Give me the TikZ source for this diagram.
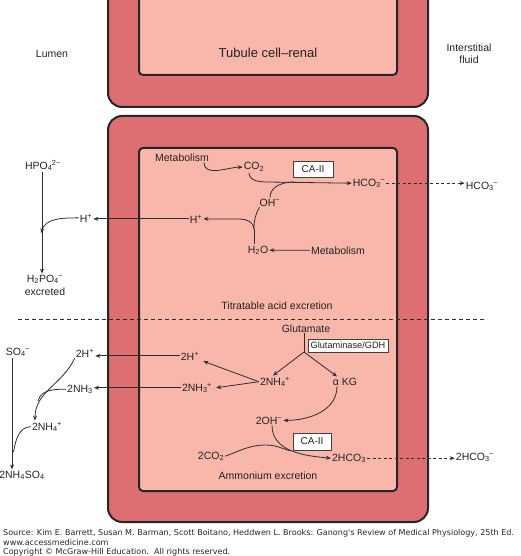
\documentclass[tikz,border=0pt]{standalone}
\usepackage{fontspec}
\setmainfont{Liberation Sans}
\newfontfamily\srcfont{DejaVu Sans}
\usetikzlibrary{arrows.meta}
\definecolor{cellouter}{RGB}{221,110,114}
\definecolor{cellinner}{RGB}{249,182,171}
\definecolor{lncol}{RGB}{45,45,45}
\definecolor{txt}{RGB}{35,35,35}
\newcommand\scr[2]{\textsubscript{#1}\kern-0.05em\textsuperscript{#2}}
\begin{document}
\begin{tikzpicture}[x=1pt,y=-1pt,
  lbl/.style={font=\fontsize{10.5}{12}\selectfont, text=txt, inner sep=1pt, anchor=base},
  lblc/.style={font=\fontsize{10.5}{12}\selectfont, text=txt, inner sep=1pt, align=center},
  arr/.style={draw=lncol, line width=0.8pt, -{Stealth[length=5pt,width=4pt]}},
  plain/.style={draw=lncol, line width=0.8pt},
  dsh/.style={draw=lncol, line width=0.8pt, dash pattern=on 3pt off 2.5pt, -{Stealth[length=5pt,width=4pt]}},
  enz/.style={draw=black!75, fill=white, line width=0.7pt, text=txt, inner sep=1pt},
  outercell/.style={fill=cellouter, draw=black!85, line width=2pt, rounded corners=14pt},
  innercell/.style={fill=cellinner, draw=black!85, line width=2pt, rounded corners=4pt},
  src/.style={font=\srcfont\fontsize{8.05}{9}\selectfont, text=black!85, inner sep=0pt, anchor=base west}]
\useasboundingbox (0,0) rectangle (520,556);
\begin{scope}
\clip (0,0) rectangle (520,556);
% top cell
\draw[outercell] (108,-30) rectangle (428,107);
\draw[innercell] (139,-30) rectangle (397,75);
% bottom cell
\draw[outercell] (108,116) rectangle (428,522);
\draw[innercell] (139,148) rectangle (397,491);
\end{scope}

\node[lbl] (lumen) at (52,58) {Lumen};
\node[lbl, font=\fontsize{13}{15}\selectfont] (title) at (268,57.5) {Tubule cell–renal};
\node[lblc] (isf) at (469,54) {Interstitial\\fluid};

% titratable acid section
\node[lbl] (met1) at (182,161) {Metabolism};
\node[lbl] (co2) at (254,170) {CO\textsubscript{2}};
\node[enz, font=\fontsize{10}{12}\selectfont, minimum width=40pt, minimum height=16pt] (ca1) at (313,169) {CA-II};
\node[lbl] (hco3) at (369,186) {HCO\scr{3}{−}};
\node[lbl] (hco3o) at (482,189) {HCO\scr{3}{−}};
\node[lbl] (oh) at (270,206) {OH\textsuperscript{−}};
\node[lbl] (hin) at (196,223) {H\textsuperscript{+}};
\node[lbl] (hout) at (86,222) {H\textsuperscript{+}};
\node[lbl] (h2o) at (258,253) {H\textsubscript{2}O};
\node[lbl] (met2) at (338,254) {Metabolism};
\node[lbl] (hpo4) at (43,169) {HPO\scr{4}{2−}};
\node[lblc] (h2po4) at (45,285) {H\textsubscript{2}PO\scr{4}{−}\\[1pt]excreted};
\node[lbl] (tae) at (277,309) {Titratable acid excretion};

\coordinate (j1) at (268,182);
\coordinate (j2) at (294,182);
\coordinate (fork1) at (254,229);
\coordinate (k1) at (240,219);
\draw[arr] ([xshift=-6pt]met1.south east) to[out=-90,in=180] (co2.west);
\draw[arr] ([xshift=-5pt]co2.south) to[out=-90,in=180] (j1) -- (hco3.west);
\draw[plain] (oh.north) to[out=90,in=180] (j2);
\draw[plain] ([xshift=-4pt]h2o.north) -- (fork1);
\draw[arr] (fork1) to[out=90,in=0] (k1) -- (hin.east);
\draw[plain] (fork1) to[out=90,in=-120] ([xshift=1pt]oh.south west);
\draw[arr] (hin.west) -- (hin.west -| hout.east);
\draw[arr] ([xshift=-1pt]hpo4.south) -- ([xshift=-1pt]hpo4.south |- h2po4.north);
\draw[arr] (hout.west) to[out=180,in=72] ([xshift=-2pt]hpo4.south |- 0,233);
\draw[arr] (met2.west) -- (h2o.east);
\draw[dsh] (hco3.east) -- (hco3.east -| hco3o.west);

\coordinate (dl) at (18,319);
\coordinate (dr) at (487,319);
\draw[draw=lncol, line width=0.7pt, dash pattern=on 4pt off 3pt] (dl) -- (dr);

% ammonium section
\node[lbl] (glu) at (306,332) {Glutamate};
\node[enz, font=\fontsize{9.2}{11}\selectfont, minimum width=80pt, minimum height=13pt] (gdh) at (348,345.5) {Glutaminase/GDH};
\node[lbl] (nh4) at (275,385) {2NH\scr{4}{+}};
\node[lbl] (akg) at (345,385) {α KG};
\node[lbl] (h2in) at (190,360) {2H\textsuperscript{+}};
\node[lbl] (nh3in) at (197,391) {2NH\scr{3}{+}};
\node[lbl] (h2out) at (85,357) {2H\textsuperscript{+}};
\node[lbl] (nh3out) at (80,392) {2NH\textsubscript{3}};
\node[lbl] (so4) at (18,355) {SO\scr{4}{−}};
\node[lbl] (nh4out) at (47,430) {2NH\scr{4}{+}};
\node[lbl] (nh4so4) at (22,478) {2NH\textsubscript{4}SO\textsubscript{4}};
\node[lbl] (oh2) at (269,424) {2OH\textsuperscript{−}};
\node[enz, font=\fontsize{10}{12}\selectfont, minimum width=38pt, minimum height=17pt] (ca2) at (312,441.5) {CA-II};
\node[lbl] (co2b) at (211,459) {2CO\textsubscript{2}};
\node[lbl] (hco3b) at (349,461) {2HCO\textsubscript{3}};
\node[lbl] (hco3bo) at (475,460) {2HCO\scr{3}{−}};
\node[lbl] (amm) at (268,479) {Ammonium excretion};

\coordinate (gf) at (304,352);
\coordinate (k2) at (266,445);
\coordinate (mg) at (291,451);
\coordinate (m3) at (38,401);
\coordinate (m4) at (13.5,452);
\draw[plain] (glu.south -| gf) -- (gf);
\draw[arr] (gf) -- ([xshift=-2pt]nh4.north);
\draw[arr] (gf) -- ([xshift=-8pt]akg.north);
\draw[arr] (nh4.west) -- ([xshift=3pt]h2in.south east);
\draw[arr] (nh4.west) -- ([xshift=3pt]nh3in.east);
\draw[arr] (h2in.west) -- (h2in.west -| h2out.east);
\draw[arr] (nh3in.west) -- (nh3in.west -| nh3out.east);
\draw[arr] ([xshift=-8pt]akg.south) to[out=-90,in=0] (oh2.east);
\draw[arr] ([xshift=3pt]oh2.south) to[out=-90,in=175] (hco3b.west);
\draw[plain] (co2b.east) to[out=20,in=180] (k2) to[out=0,in=165] (mg);
\draw[dsh] (hco3b.east) -- (hco3b.east -| hco3bo.west);
\draw[arr] ([xshift=-6pt]so4.south) -- ([xshift=-6pt]so4.south |- nh4so4.north);
\draw[arr] (h2out.south west) to[out=-115,in=90] ([xshift=-12pt]nh4out.north);
\draw[plain] (nh3out.west) to[out=180,in=75] (m3);
\draw[plain] (nh4out.west) to[out=180,in=80] (m4);

% source
\node[src] (s1) at (3,535) {Source: Kim E. Barrett, Susan M. Barman, Scott Boitano, Heddwen L. Brooks: Ganong\textquotesingle s Review of Medical Physiology, 25th Ed.};
\node[src] (s2) at (3,545) {www.accessmedicine.com};
\node[src] (s3) at (3,554) {Copyright © McGraw-Hill Education.\ \ All rights reserved.};
\end{tikzpicture}
\end{document}
